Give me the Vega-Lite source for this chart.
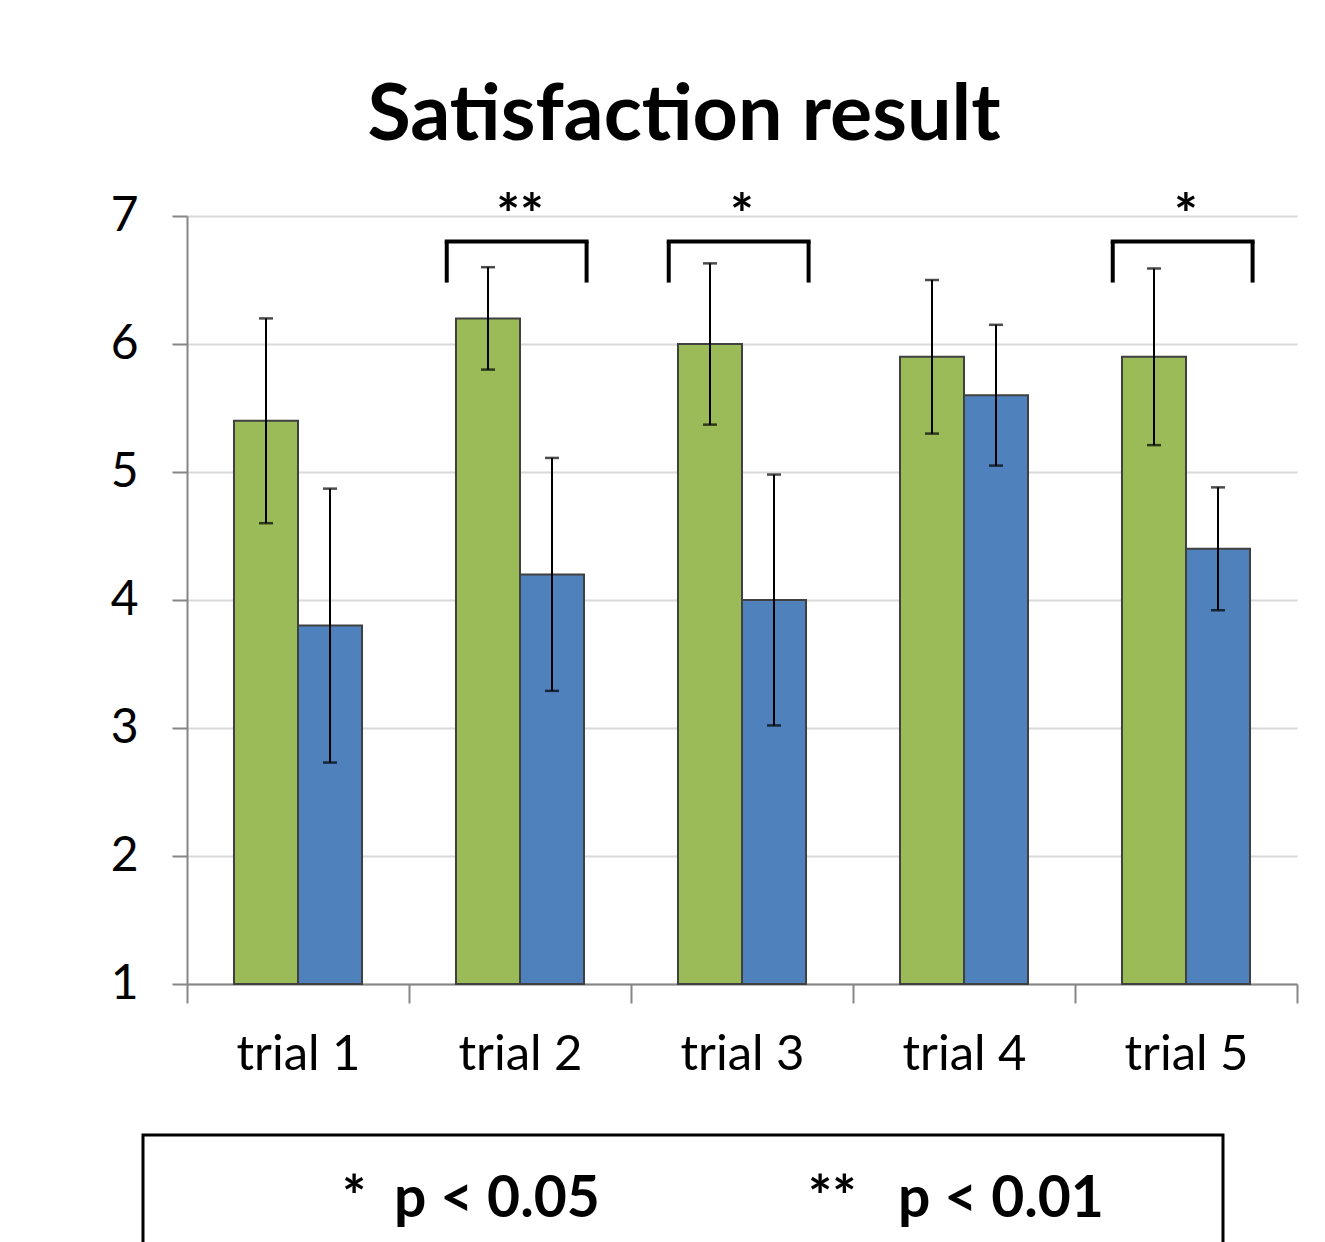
{
  "$schema": "https://vega.github.io/schema/vega-lite/v6.json",
  "autosize": {"type": "none"},
  "padding": {"left": 187, "top": 216, "right": 28, "bottom": 258},
  "width": 1110,
  "height": 768,
  "background": "white",
  "title": {
    "text": "Satisfaction result",
    "fontSize": 79,
    "font": "Lato",
    "fontWeight": "bold",
    "color": "black",
    "frame": "group",
    "anchor": "middle",
    "dx": -58,
    "offset": 32
  },
  "datasets": {
    "bars": [
      {"trial": "trial 1", "series": "A", "mean": 5.4, "err": 0.8},
      {"trial": "trial 1", "series": "B", "mean": 3.8, "err": 1.07},
      {"trial": "trial 2", "series": "A", "mean": 6.2, "err": 0.4},
      {"trial": "trial 2", "series": "B", "mean": 4.2, "err": 0.91},
      {"trial": "trial 3", "series": "A", "mean": 6.0, "err": 0.63},
      {"trial": "trial 3", "series": "B", "mean": 4.0, "err": 0.98},
      {"trial": "trial 4", "series": "A", "mean": 5.9, "err": 0.6},
      {"trial": "trial 4", "series": "B", "mean": 5.6, "err": 0.55},
      {"trial": "trial 5", "series": "A", "mean": 5.9, "err": 0.69},
      {"trial": "trial 5", "series": "B", "mean": 4.4, "err": 0.48}
    ],
    "sig": [
      {"trial": "trial 2", "star": "**", "sig": "p < 0.01"},
      {"trial": "trial 3", "star": "*", "sig": "p < 0.05"},
      {"trial": "trial 5", "star": "*", "sig": "p < 0.05"}
    ]
  },
  "layer": [
    {
      "data": {"name": "bars"},
      "mark": {"type": "bar", "stroke": "#404040", "strokeWidth": 2},
      "encoding": {
        "x": {"field": "trial", "type": "nominal", "scale": {"paddingInner": 0, "paddingOuter": 0}},
        "xOffset": {"field": "series", "type": "nominal", "scale": {"paddingInner": 0, "paddingOuter": 0.734}},
        "y": {"field": "mean", "type": "quantitative", "scale": {"domain": [1, 7], "zero": false, "nice": false}, "axis": {"values": [1, 2, 3, 4, 5, 6, 7], "format": "d"}},
        "y2": {"datum": 1},
        "fill": {"field": "series", "type": "nominal", "scale": {"domain": ["A", "B"], "range": ["#9BBB59", "#4F81BD"]}, "legend": null}
      }
    },
    {
      "data": {"name": "bars"},
      "transform": [
        {"calculate": "datum.mean - datum.err", "as": "lo"},
        {"calculate": "datum.mean + datum.err", "as": "hi"}
      ],
      "layer": [
        {
          "mark": {"type": "rule", "color": "black", "strokeWidth": 2},
          "encoding": {
            "x": {"field": "trial", "type": "nominal"},
            "xOffset": {"field": "series", "type": "nominal"},
            "y": {"field": "lo", "type": "quantitative"},
            "y2": {"field": "hi"}
          }
        },
        {
          "mark": {"type": "tick", "color": "black", "size": 14, "thickness": 2.5, "orient": "horizontal"},
          "encoding": {
            "x": {"field": "trial", "type": "nominal"},
            "xOffset": {"field": "series", "type": "nominal"},
            "y": {"field": "lo", "type": "quantitative"}
          }
        },
        {
          "mark": {"type": "tick", "color": "black", "size": 14, "thickness": 2.5, "orient": "horizontal"},
          "encoding": {
            "x": {"field": "trial", "type": "nominal"},
            "xOffset": {"field": "series", "type": "nominal"},
            "y": {"field": "hi", "type": "quantitative"}
          }
        }
      ]
    },
    {
      "data": {"name": "sig"},
      "layer": [
        {
          "mark": {"type": "rule", "color": "black", "strokeWidth": 4, "strokeCap": "square"},
          "encoding": {
            "x": {"field": "trial", "type": "nominal", "bandPosition": 0.17},
            "x2": {"field": "trial", "bandPosition": 0.8},
            "y": {"datum": 6.8}
          }
        },
        {
          "mark": {"type": "rule", "color": "black", "strokeWidth": 4},
          "encoding": {
            "x": {"field": "trial", "type": "nominal", "bandPosition": 0.17},
            "y": {"datum": 6.48},
            "y2": {"datum": 6.8}
          }
        },
        {
          "mark": {"type": "rule", "color": "black", "strokeWidth": 4},
          "encoding": {
            "x": {"field": "trial", "type": "nominal", "bandPosition": 0.8},
            "y": {"datum": 6.48},
            "y2": {"datum": 6.8}
          }
        },
        {
          "mark": {"type": "text", "font": "Lato", "fontWeight": "bold", "fontSize": 56, "baseline": "alphabetic", "align": "center"},
          "encoding": {
            "x": {"field": "trial", "type": "nominal"},
            "y": {"datum": 6.86},
            "text": {"field": "star"},
            "color": {
              "field": "sig",
              "type": "nominal",
              "scale": {"domain": ["p < 0.05", "p < 0.01"], "range": ["black", "black"]},
              "legend": {
                "orient": "none",
                "legendX": -44,
                "legendY": 919,
                "direction": "horizontal",
                "columns": 2,
                "title": null,
                "padding": 36,
                "strokeColor": "black",
                "symbolOpacity": 0,
                "symbolSize": 100,
                "labelOffset": 106,
                "columnPadding": 45,
                "labelFont": "Lato",
                "labelFontWeight": "bold",
                "labelFontSize": 57,
                "labelColor": "black",
                "labelLimit": 0,
                "labelExpr": "datum.label == 'p < 0.01' ? '**\u00a0\u00a0\u00a0p < 0.01\u00a0\u00a0\u00a0\u00a0\u00a0\u00a0\u200b' : '*\u00a0\u00a0' + datum.label"
              }
            }
          }
        }
      ]
    }
  ],
  "encoding": {},
  "config": {
    "font": "Lato",
    "view": {"stroke": null},
    "legend": {"strokeWidth": 3},
    "axisX": {
      "title": null,
      "labelAngle": 0,
      "labelFontSize": 49,
      "labelColor": "black",
      "labelPadding": 27,
      "tickBand": "extent",
      "tickSize": 19,
      "tickColor": "#868686",
      "tickWidth": 2,
      "domainColor": "#868686",
      "domainWidth": 2,
      "grid": false
    },
    "axisY": {
      "title": null,
      "labelFontSize": 48,
      "labelColor": "black",
      "labelPadding": 34,
      "tickSize": 15,
      "tickColor": "#868686",
      "tickWidth": 2,
      "domainColor": "#868686",
      "domainWidth": 2,
      "gridColor": "#d9d9d9",
      "gridWidth": 2
    }
  }
}
